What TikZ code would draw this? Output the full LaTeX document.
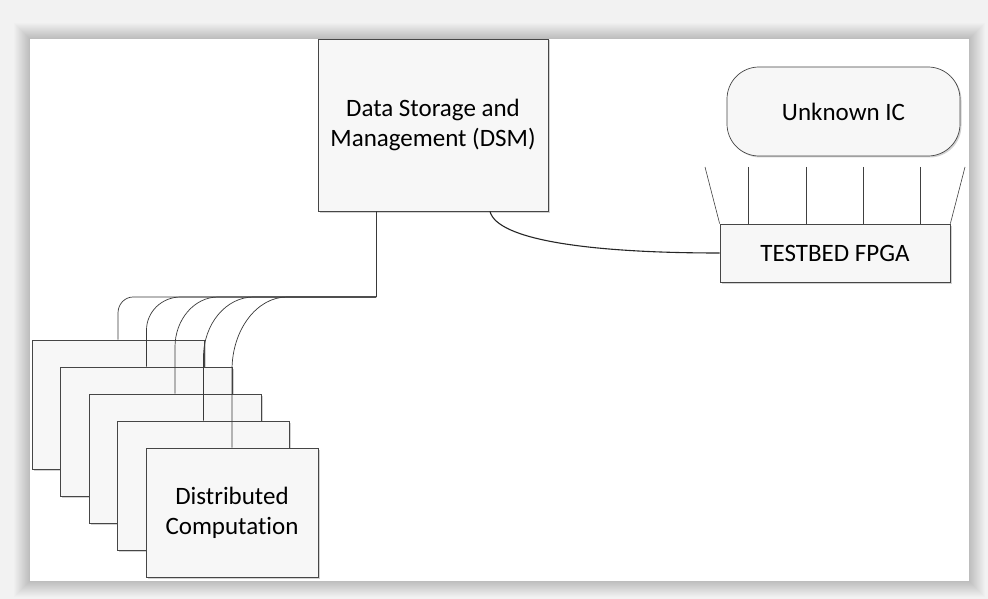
\documentclass[tikz,border=0pt]{standalone}
\usepackage{fontspec}
\setmainfont{Carlito}[Ligatures=NoCommon]
\usetikzlibrary{calc,shadows}
\begin{document}
\begin{tikzpicture}[x=1pt,y=-1pt,
  blk/.style={draw=gray!55!black, line width=0.7pt, fill=gray!6, inner sep=0pt,
    align=center, font=\fontsize{25}{30}\selectfont,
    drop shadow={shadow xshift=1.5pt, shadow yshift=-1.5pt, opacity=0.35, fill=gray}},
  wire/.style={draw=gray!45!black, line width=0.7pt},
  link/.style={draw=black!85, line width=1.1pt},
  pin/.style={draw=gray!50!black, line width=0.6pt}]
% background and frame shadow
\fill[gray!10] (0,0) rectangle (988,599);
\useasboundingbox (0,0) rectangle (988,599);
\foreach \i in {16,...,1}{
  \pgfmathsetmacro{\sh}{10+(17-\i)*2.6}
  \fill[gray!\sh] (30-\i,39-\i) rectangle (969+\i,581+\i);
}
\fill[white] (30,39) rectangle (969,581);
% nodes
\node[blk, minimum width=230pt, minimum height=172pt] (dsm) at (433,125) {Data Storage and\\Management (DSM)};
\node[blk, rounded corners=32pt, minimum width=233pt, minimum height=89pt] (ic) at (843.5,111.5) {Unknown IC};
\node[blk, minimum width=230pt, minimum height=58pt] (fpga) at (835,253) {TESTBED FPGA};
\foreach \k in {1,...,4}{
  \node[blk, minimum width=172pt, minimum height=129pt] (b\k) at ({118+28.5*(\k-1)},{404.5+27*(\k-1)}) {};
}
\node[blk, minimum width=172pt, minimum height=129pt] (b5) at ({118+28.5*4},{404.5+27*4}) {Distributed\\Computation};
% pins between IC and FPGA
\foreach \px in {748,806,863,920}{
  \draw[pin] (\px,167) -- (\px,167 |- fpga.north);
}
\coordinate (pl) at (705,167);
\coordinate (pr) at (965,167);
\draw[pin] (pl) -- (fpga.north west);
\draw[pin] (pr) -- (fpga.north east);
% DSM to FPGA link
\coordinate (ds) at (490,211);
\draw[link] (ds |- dsm.south) .. controls (497,240) and (590,253) .. (fpga.west);
% DSM to computation boxes
\coordinate (j) at (376,297);
\draw[wire] (j |- dsm.south) -- (j);
\foreach \k/\rx/\ry in {1/15/16, 2/34/33, 3/43/50, 4/50/60, 5/55/73}{
  \draw[wire] (j) -- ($(b\k.north |- j)+(\rx,0)$)
    .. controls ($(b\k.north |- j)+(0.45*\rx,0)$) and ($(b\k.north |- j)+(0,0.45*\ry)$)
    .. ($(b\k.north |- j)+(0,\ry)$) -- (b\k.north);
}
\end{tikzpicture}
\end{document}
